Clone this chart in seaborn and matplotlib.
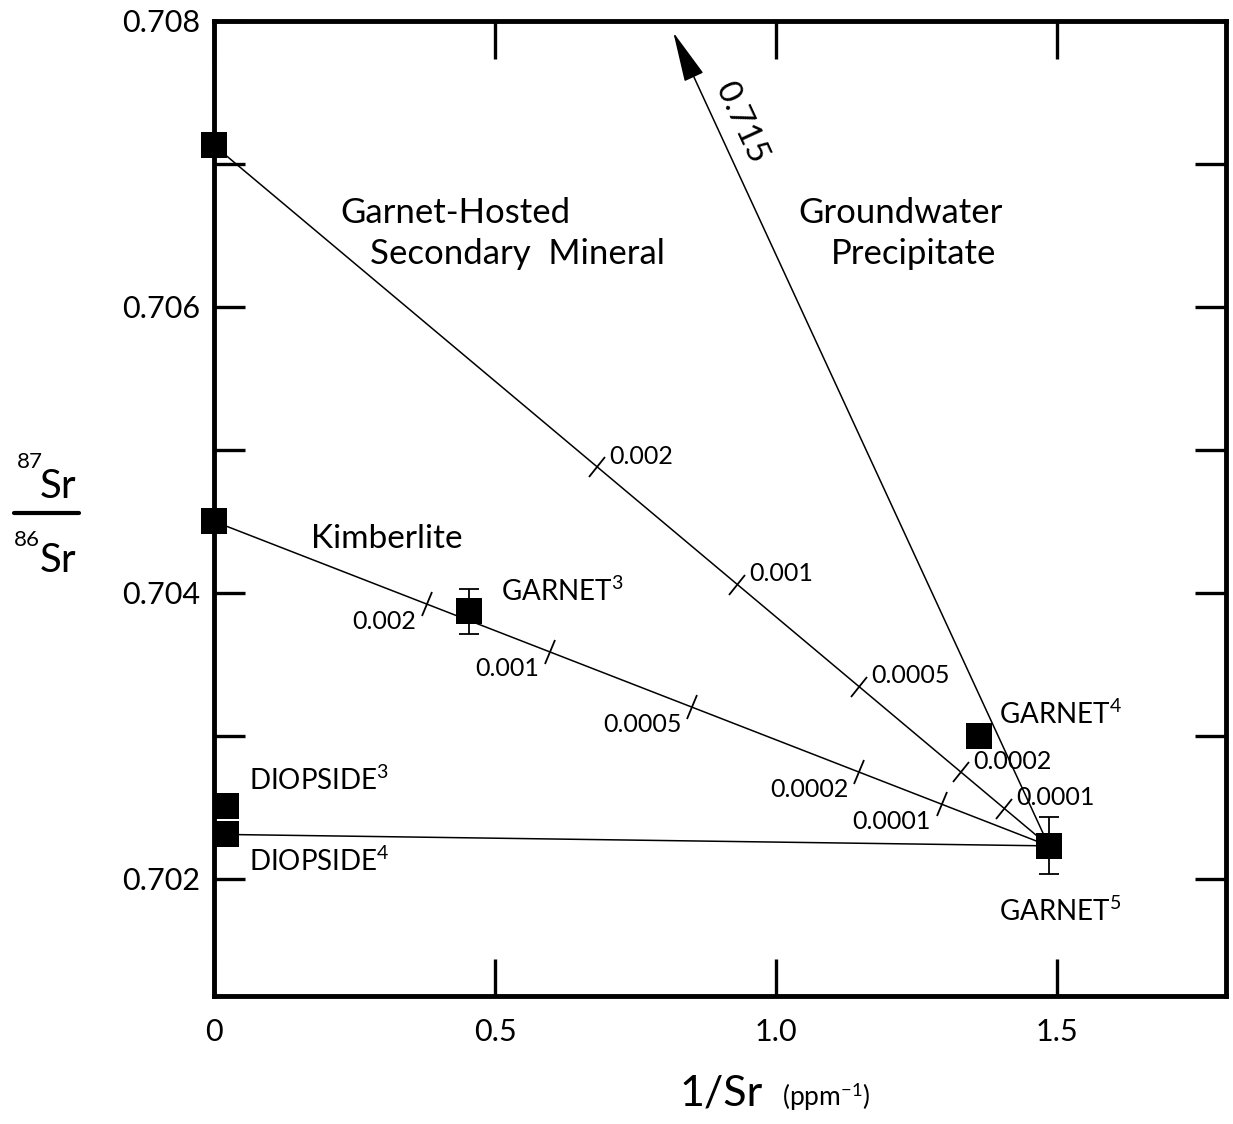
import numpy as np
import pandas as pd
import matplotlib
matplotlib.use("Agg")
import matplotlib.pyplot as plt
import seaborn as sns
from matplotlib.markers import MarkerStyle
from matplotlib.transforms import Affine2D
from matplotlib.lines import Line2D

# ---- data -------------------------------------------------------------
sample_names = ["Garnet-hosted secondary", "Kimberlite", "GARNET3",
                "DIOPSIDE3", "DIOPSIDE4", "GARNET4", "GARNET5"]
inv_sr = [0.0, 0.0, 0.454, 0.021, 0.021, 1.360, 1.485]          # 1/Sr (ppm^-1)
sr_ratio = [0.70713, 0.70450, 0.70387, 0.70251, 0.70231, 0.70300, 0.70223]
sr_err = [0.0, 0.0, 0.000157, 0.0, 0.0, 0.0, 0.0002]

# groundwater end-member direction (87Sr/86Sr = 0.715)
groundwater_x = 0.817
groundwater_y = 0.70792

# mixing-proportion marks along the two mixing lines
mix_labels = ["0.002", "0.001", "0.0005", "0.0002", "0.0001"]
secondary_mark_x = [0.682, 0.931, 1.148, 1.329, 1.406]
kimberlite_mark_x = [0.379, 0.597, 0.851, 1.148, 1.294]

x_ticks = [0.0, 0.5, 1.0, 1.5]
x_ticklabels = ["0", "0.5", "1.0", "1.5"]
y_ticks = [0.702, 0.703, 0.704, 0.705, 0.706, 0.707, 0.708]
y_ticklabels = ["0.702", "", "0.704", "", "0.706", "", "0.708"]

# ---- style ------------------------------------------------------------
sns.set_theme(style="ticks")
plt.rcParams["font.family"] = ["Lato", "DejaVu Sans"]
plt.rcParams["mathtext.fontset"] = "custom"
plt.rcParams["mathtext.rm"] = "Lato"
plt.rcParams["mathtext.it"] = "Lato:italic"
plt.rcParams.update({"text.color": "black", "axes.labelcolor": "black",
                     "xtick.color": "black", "ytick.color": "black",
                     "axes.edgecolor": "black"})

W, H = 1233, 1124
fig = plt.figure(figsize=(W / 100, H / 100), dpi=100)
ax = fig.add_axes([214 / W, 1 - 996 / H, (1226 - 214) / W, (996 - 21) / H])
ax.set_xlim(0, 1.8)
ax.set_ylim(0.70118, 0.708)

df = pd.DataFrame({"sample": sample_names, "inv_sr": inv_sr,
                   "ratio": sr_ratio, "err": sr_err})
pt = df.set_index("sample")


def xy(name):
    return pt.loc[name, "inv_sr"], pt.loc[name, "ratio"]


g5x, g5y = xy("GARNET5")

# mixing lines toward GARNET5
for start in ["Garnet-hosted secondary", "Kimberlite", "DIOPSIDE4"]:
    sx, sy = xy(start)
    ax.plot([sx, g5x], [sy, g5y], color="black", lw=1.1, zorder=2)

# groundwater arrow
ax.annotate("", xy=(groundwater_x, groundwater_y), xytext=(g5x, g5y),
            arrowprops=dict(arrowstyle="-|>,head_length=1.6,head_width=0.33",
                            mutation_scale=20, lw=1.1, color="black",
                            shrinkA=0, shrinkB=0), zorder=2)

# samples
sns.scatterplot(data=df, x="inv_sr", y="ratio", marker="s", s=330,
                color="black", linewidth=0, ax=ax, zorder=5,
                clip_on=False, legend=False)
err = df[df["err"] > 0]
ax.errorbar(err["inv_sr"], err["ratio"], yerr=err["err"], fmt="none",
            ecolor="black", elinewidth=1.3, capsize=7, capthick=1.3, zorder=4)


def line_angle(x0, y0, x1, y1):
    p0 = ax.transData.transform((x0, y0))
    p1 = ax.transData.transform((x1, y1))
    return np.degrees(np.arctan2(p1[1] - p0[1], p1[0] - p0[0]))


def mixing_marks(start, mark_x, offset, ha, va):
    sx, sy = xy(start)
    my = np.interp(mark_x, [sx, g5x], [sy, g5y])
    ang = line_angle(sx, sy, g5x, g5y)
    ms = MarkerStyle("|", transform=Affine2D().rotate_deg(ang))
    ax.plot(mark_x, my, linestyle="none", marker=ms, markersize=19,
            markeredgewidth=1.3, color="black", zorder=3)
    for lab, mx, yy in zip(mix_labels, mark_x, my):
        ax.annotate(lab, (mx, yy), xytext=offset, textcoords="offset pixels",
                    ha=ha, va=va, fontsize=18)


mixing_marks("Garnet-hosted secondary", secondary_mark_x, (12, 11), "left", "center")
mixing_marks("Kimberlite", kimberlite_mark_x, (-11, -17), "right", "center")

# label on groundwater arrow
ang = line_angle(groundwater_x, groundwater_y, g5x, g5y)
ax.text(0.937, 0.70729, "0.715", rotation=ang, rotation_mode="anchor",
        ha="center", va="center", fontsize=24)

# field and sample labels
ax.text(0.430, 0.70666, "Garnet-Hosted", ha="center", va="center", fontsize=25)
ax.text(0.539, 0.70637, "Secondary  Mineral", ha="center", va="center", fontsize=25)
ax.text(1.221, 0.70666, "Groundwater", ha="center", va="center", fontsize=25)
ax.text(1.244, 0.70637, "Precipitate", ha="center", va="center", fontsize=25)
ax.text(0.308, 0.70438, "Kimberlite", ha="center", va="center", fontsize=24)
ax.text(0.510, 0.70401, r"GARNET$^{3}$", ha="left", va="center", fontsize=20)
ax.text(1.397, 0.70315, r"GARNET$^{4}$", ha="left", va="center", fontsize=20)
ax.text(1.397, 0.70177, r"GARNET$^{5}$", ha="left", va="center", fontsize=20)
ax.text(0.062, 0.70269, r"DIOPSIDE$^{3}$", ha="left", va="center", fontsize=20)
ax.text(0.062, 0.70212, r"DIOPSIDE$^{4}$", ha="left", va="center", fontsize=20)

# axes
ax.set_xticks(x_ticks)
ax.set_xticklabels(x_ticklabels)
ax.set_yticks(y_ticks)
ax.set_yticklabels(y_ticklabels)
ax.tick_params(direction="in", top=True, right=True, width=2.4,
               labelsize=22, colors="black")
ax.tick_params(axis="x", length=27, pad=16)
ax.tick_params(axis="y", length=22, pad=10)
ax.set_xlabel("")
ax.set_ylabel("")
for s in ax.spines.values():
    s.set_linewidth(3.5)
    s.set_color("black")
    s.set_visible(True)
ax.grid(False)


def fx(px):
    return px / W


def fy(py):
    return 1 - py / H


# y-axis label: 87Sr / 86Sr
fig.text(fx(17), fy(452), "87", ha="left", va="top", fontsize=16)
fig.text(fx(40), fy(498), "Sr", ha="left", va="baseline", fontsize=29)
fig.add_artist(Line2D([fx(14), fx(79)], [fy(513), fy(513)], color="black",
                      lw=3, transform=fig.transFigure))
fig.text(fx(14), fy(530), "86", ha="left", va="top", fontsize=16)
fig.text(fx(40), fy(572), "Sr", ha="left", va="baseline", fontsize=29)

# x-axis label: 1/Sr (ppm^-1)
fig.text(fx(721), fy(1094), "1/Sr", ha="center", va="center", fontsize=31)
fig.text(fx(782), fy(1097), r"(ppm$^{-1}$)", ha="left", va="center", fontsize=19)

fig.savefig("out.png", dpi=100, facecolor="white")
